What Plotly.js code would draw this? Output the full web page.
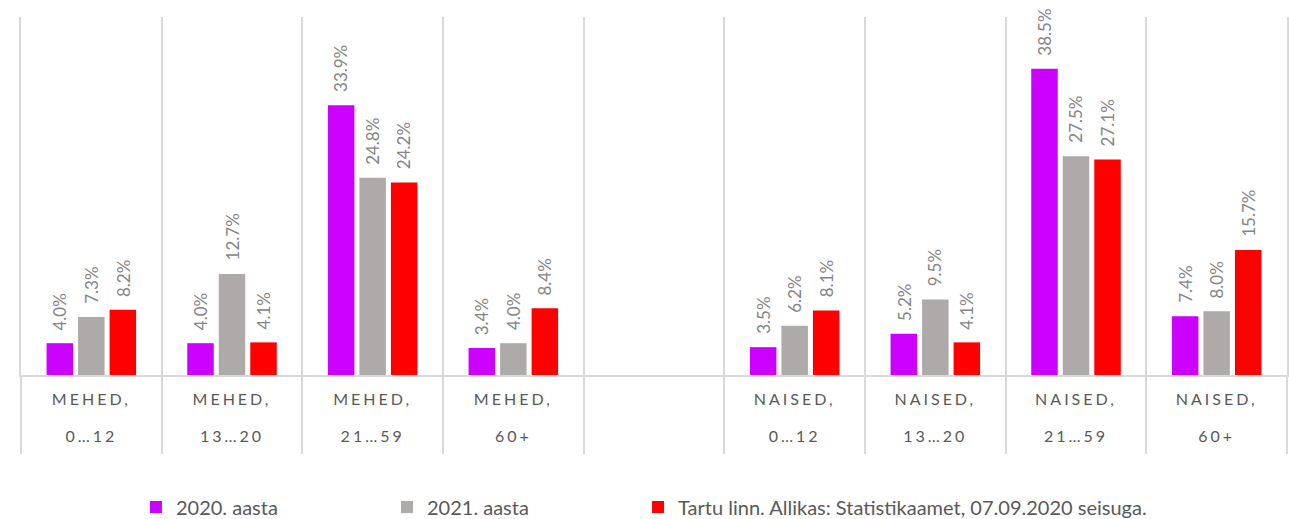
<!DOCTYPE html>
<html>
<head>
<meta charset="utf-8">
<script src="https://cdn.plot.ly/plotly-3.0.1.min.js"></script>
<style>
  html, body { margin: 0; padding: 0; background: #ffffff; }
  #chart { width: 1289px; height: 519px; }
</style>
</head>
<body>
<div id="chart"></div>
<script>
// ---- data ----
const categories = [
  "MEHED,<br>0…12", "MEHED,<br>13…20", "MEHED,<br>21…59", "MEHED,<br>60+",
  " ",
  "NAISED,<br>0…12", "NAISED,<br>13…20", "NAISED,<br>21…59", "NAISED,<br>60+"
];
const seriesNames = ["2020. aasta", "2021. aasta", "Tartu linn. Allikas: Statistikaamet, 07.09.2020 seisuga."];
const values2020 = [4.0, 4.0, 33.9, 3.4, null, 3.5, 5.2, 38.5, 7.4];
const values2021 = [7.3, 12.7, 24.8, 4.0, null, 6.2, 9.5, 27.5, 8.0];
const valuesTartu = [8.2, 4.1, 24.2, 8.4, null, 8.1, 4.1, 27.1, 15.7];
const seriesColors = ["#CC00FF", "#AEAAAA", "#FF0000"];

const allValues = [values2020, values2021, valuesTartu];

const W = 1289, H = 519;
const margin = {l: 21, r: 2, t: 17, b: 144, autoexpand: false};
const bargap = 0.328, bargroupgap = 0.159;
const plotW = W - margin.l - margin.r;
const slot = plotW / categories.length * (1 - bargap) / 3;

const legendIds = ['legend', 'legend2', 'legend3'];
const legendX = [0.0908, 0.2891, 0.4874];
const legendFont = {family: 'Lato, "Open Sans", sans-serif', size: 20, color: '#595959'};

const traces = allValues.map((vals, i) => ({
  type: 'bar',
  name: seriesNames[i],
  x: categories,
  y: vals,
  legend: legendIds[i],
  marker: {color: seriesColors[i]},
  hoverinfo: 'skip'
}));

const annotations = [];
allValues.forEach((vals, i) => {
  vals.forEach((v, j) => {
    if (v === null) return;
    annotations.push({
      x: categories[j], y: v, xref: 'x', yref: 'y',
      text: v.toFixed(1) + '%',
      showarrow: false,
      textangle: -90,
      xanchor: 'center', yanchor: 'bottom',
      xshift: (i - 1) * slot,
      yshift: 11,
      font: {family: 'Lato, "Open Sans", sans-serif', size: 17, color: '#858585'}
    });
  });
});

const layout = {
  width: W, height: H,
  margin: margin,
  paper_bgcolor: '#ffffff',
  plot_bgcolor: '#ffffff',
  barmode: 'group',
  bargap: bargap,
  bargroupgap: bargroupgap,
  showlegend: true,
  xaxis: {
    type: 'category',
    categoryorder: 'array',
    categoryarray: categories,
    range: [-0.5, categories.length - 0.5],
    tickson: 'boundaries',
    ticks: 'outside',
    ticklen: 77,
    tickwidth: 2,
    tickcolor: '#D9D9D9',
    showgrid: true,
    gridcolor: '#D9D9D9',
    gridwidth: 2,
    showline: true,
    linecolor: '#D9D9D9',
    linewidth: 2,
    ticklabelstandoff: 9,
    tickfont: {family: 'Lato, "Open Sans", sans-serif', size: 16, color: '#595959'},
    fixedrange: true
  },
  yaxis: {
    range: [0, 45],
    showgrid: false,
    zeroline: false,
    showticklabels: false,
    ticks: '',
    showline: true,
    mirror: true,
    linecolor: '#D9D9D9',
    linewidth: 2,
    fixedrange: true
  },
  annotations: annotations
};
legendIds.forEach((id, i) => {
  layout[id] = {
    orientation: 'h',
    x: legendX[i], xanchor: 'left',
    y: -0.369, yanchor: 'middle',
    font: legendFont,
    bgcolor: 'rgba(0,0,0,0)'
  };
});

Plotly.newPlot('chart', traces, layout, {staticPlot: true, displayModeBar: false}).then(() => {
  document.querySelectorAll('.xtick text').forEach(t => {
    t.style.letterSpacing = '3px';
    const lines = t.querySelectorAll('tspan.line');
    lines.forEach((ln, k) => { if (k > 0) ln.setAttribute('dy', '37px'); });
  });
});
</script>
</body>
</html>
